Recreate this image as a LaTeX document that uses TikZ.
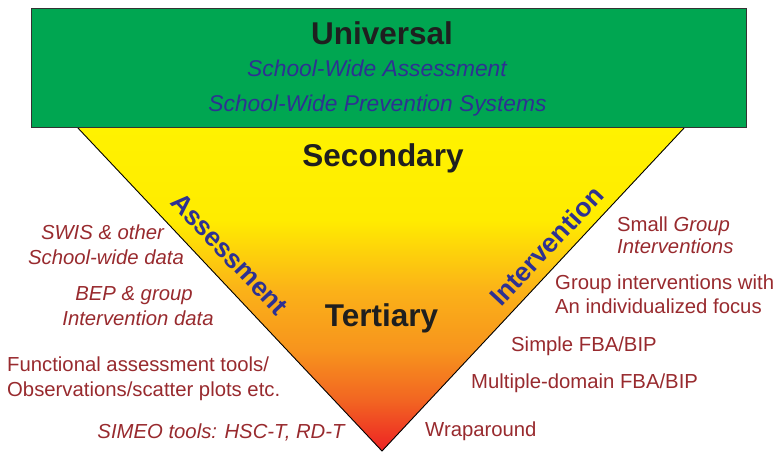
\documentclass[tikz,border=0pt]{standalone}
\usepackage{fontspec}
\setmainfont{Liberation Sans}
\definecolor{tiergreen}{RGB}{0,166,81}
\definecolor{tierblue}{RGB}{46,49,146}
\definecolor{notered}{RGB}{152,42,46}
\definecolor{tyellow}{RGB}{255,242,0}
\definecolor{tyellow2}{RGB}{255,236,0}
\definecolor{torange1}{RGB}{251,178,24}
\definecolor{torange2}{RGB}{247,148,29}
\definecolor{torange3}{RGB}{242,101,34}
\definecolor{tred}{RGB}{237,34,36}
% yellow at the top of the funnel, red at its tip
\pgfdeclareverticalshading{tiershade}{100bp}{%
  color(0bp)=(tred); color(25bp)=(tred); color(32.85bp)=(torange3);
  color(40.6bp)=(torange2); color(49.85bp)=(torange1);
  color(60.65bp)=(tyellow2); color(75bp)=(tyellow); color(100bp)=(tyellow)}
\tikzset{
  tiertitle/.style={font=\fontsize{31.5}{35}\bfseries\selectfont, text=black!88, inner sep=0pt},
  subtitle/.style={font=\fontsize{22.8}{26}\itshape\selectfont, text=tierblue, inner sep=0pt},
  sidetitle/.style={font=\fontsize{26.5}{30}\bfseries\selectfont, text=tierblue, inner sep=0pt},
  note/.style={font=\fontsize{20.3}{24}\selectfont, text=notered, inner sep=0pt},
  inote/.style={note, font=\fontsize{20.3}{24}\itshape\selectfont},
  edge/.style={line width=0.9pt, black}
}
\begin{document}
\begin{tikzpicture}[x=1pt,y=-1pt]
\useasboundingbox (0,0) rectangle (773,452);
% funnel corners
\coordinate (tl) at (77,127);
\coordinate (tr) at (685,127);
\coordinate (apex) at (382,451);
\shade[shading=tiershade] (tl) -- (tr) -- (apex) -- cycle;
\draw[edge] (tl) -- (apex) -- (tr);
% universal tier box
\node[draw=black!80, line width=1.2pt, fill=tiergreen, minimum width=715pt,
      minimum height=119pt, inner sep=0pt, anchor=north west] (box) at (31,8) {};
\node[tiertitle, anchor=base] (univ) at (382,45) {Universal};
\node[subtitle, anchor=base] (swa) at (377,76.7) {School-Wide Assessment};
\node[subtitle, anchor=base] (swp) at (377.5,111) {School-Wide Prevention Systems};
% tiers inside the funnel
\node[tiertitle, anchor=base] (second) at (383,166.5) {Secondary};
\node[tiertitle, anchor=base] (tert) at (381.5,326) {Tertiary};
\node[sidetitle, rotate=-46.7] (assess) at (229.5,254) {Assessment};
\node[sidetitle, rotate=46.9] (interv) at (546.5,246) {Intervention};
% assessment notes
\node[inote, anchor=base] (n1a) at (102.5,239) {SWIS \& other};
\node[inote, anchor=base] (n1b) at (106,264) {School-wide data};
\node[inote, anchor=base] (n2a) at (134,300) {BEP \& group};
\node[inote, anchor=base] (n2b) at (138,325) {Intervention data};
\node[note, anchor=base west] (n3a) at (7,371.7) {Functional assessment tools/};
\node[note, anchor=base west] (n3b) at (7,396.7) {Observations/scatter plots etc.};
\node[inote, anchor=base] (n4) at (221,438) {SIMEO tools: HSC-T, RD-T};
% intervention notes
\node[note, anchor=base west] (m1a) at (617,231.7) {Small \textit{Group}};
\node[inote, anchor=base west] (m1b) at (617,253) {Interventions};
\node[note, anchor=base west] (m2a) at (555,289) {Group interventions with};
\node[note, anchor=base west] (m2b) at (555,313) {An individualized focus};
\node[note, anchor=base west] (m3) at (511,351.7) {Simple FBA/BIP};
\node[note, anchor=base west] (m4) at (471,388) {Multiple-domain FBA/BIP};
\node[note, anchor=base west] (m5) at (425,436) {Wraparound};
\end{tikzpicture}
\end{document}
